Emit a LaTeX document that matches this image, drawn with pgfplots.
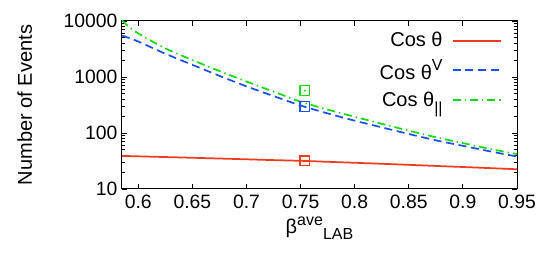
\documentclass[border=0pt]{standalone}
\usepackage{fontspec}
\setmainfont{Liberation Sans}
\usepackage{pgfplots}
\pgfplotsset{compat=1.18}
\definecolor{cred}{RGB}{240,60,30}
\definecolor{cblue}{RGB}{30,80,240}
\definecolor{cgreen}{RGB}{20,220,20}
\begin{document}
\begin{tikzpicture}
\begin{axis}[name=ax, scale only axis, width=296.25pt, height=126pt,
  ymode=log, xmin=0.585, xmax=0.95, ymin=10, ymax=10000,
  xtick={0.6,0.65,0.7,0.75,0.8,0.85,0.9,0.95},
  log ticks with fixed point,
  /pgf/number format/assume math mode=true,
  /pgf/number format/1000 sep={},
  /pgf/number format/fixed,
  tick label style={font=\fontsize{14.5}{16}\selectfont},
  xticklabel style={yshift=-1pt},
  label style={font=\fontsize{15}{17}\selectfont},
  ylabel={Number of Events},
  ylabel style={at={([xshift=-73pt]axis description cs:0,0.5)}, anchor=center},
  xlabel={β\raisebox{0.75ex}{\fontsize{12}{13}\selectfont ave}\raisebox{-0.6ex}{\fontsize{12}{13}\selectfont LAB}},
  xlabel style={yshift=1pt},
  axis line style={line width=0.75pt},
  every tick/.style={black, line width=0.6pt},
  major tick length=3.5pt, minor tick length=2pt,
  legend plot pos=right,
  legend cell align=right,
  legend style={draw=none, fill=none, at={(0.972,0.965)}, anchor=north east,
    font=\fontsize{15}{17}\selectfont, row sep=4pt},
  legend image code/.code={\path (0pt,0pt); \draw[#1, sharp plot] (5pt,0pt) -- (41pt,0pt);},
  clip=true,
]
\addplot[color=cred, line width=1.3pt, smooth] coordinates {
(0.585,39) (0.6,38.3) (0.625,37.2) (0.65,36.1) (0.675,35.0) (0.7,33.9) (0.725,32.8)
(0.754,31.7) (0.775,30.6) (0.8,29.4) (0.825,28.2) (0.85,27.0) (0.875,25.8) (0.9,24.7) (0.925,23.6) (0.95,22.5)};
\addlegendentry{Cos θ}
\addplot[color=cblue, line width=1.3pt, dash pattern=on 6pt off 3.5pt, smooth] coordinates {
(0.585,5500) (0.6,4300) (0.625,2600) (0.65,1650) (0.675,1050) (0.7,680) (0.725,457)
(0.75,310) (0.775,224) (0.8,166) (0.825,126) (0.85,96) (0.875,74) (0.9,59) (0.925,47) (0.95,38)};
\addlegendentry{Cos θ\raisebox{0.8ex}{\fontsize{12}{13}\selectfont V}}
\addplot[color=cgreen, line width=1.3pt, dash pattern=on 6pt off 3pt on 1pt off 3pt, smooth] coordinates {
(0.585,10400) (0.59,8300) (0.6,6000) (0.625,3250) (0.65,2010) (0.675,1280) (0.7,830) (0.725,548)
(0.75,363) (0.775,262) (0.8,195) (0.825,146) (0.85,110) (0.875,84) (0.9,66) (0.925,52) (0.95,42)};
\addlegendentry{Cos θ\raisebox{-0.7ex}{\fontsize{12}{13}\selectfont ||}}
\addplot[cred, only marks, mark=square, mark size=3.6pt, line width=0.9pt, forget plot] coordinates {(0.754,32)};
\addplot[cblue, only marks, mark=square, mark size=3.6pt, line width=0.9pt, forget plot] coordinates {(0.754,295)};
\addplot[cgreen, only marks, mark=square, mark size=3.6pt, line width=0.9pt, forget plot] coordinates {(0.754,570)};
\addplot[cred, only marks, mark=*, mark size=0.5pt, forget plot] coordinates {(0.754,32)};
\addplot[cblue, only marks, mark=*, mark size=0.5pt, forget plot] coordinates {(0.754,295)};
\addplot[cgreen, only marks, mark=*, mark size=0.5pt, forget plot] coordinates {(0.754,570)};
\end{axis}
\pgfresetboundingbox
\path ([xshift=-91.5pt,yshift=-54.75pt]ax.south west) rectangle ([xshift=21pt,yshift=15.75pt]ax.north east);
\end{tikzpicture}
\end{document}
